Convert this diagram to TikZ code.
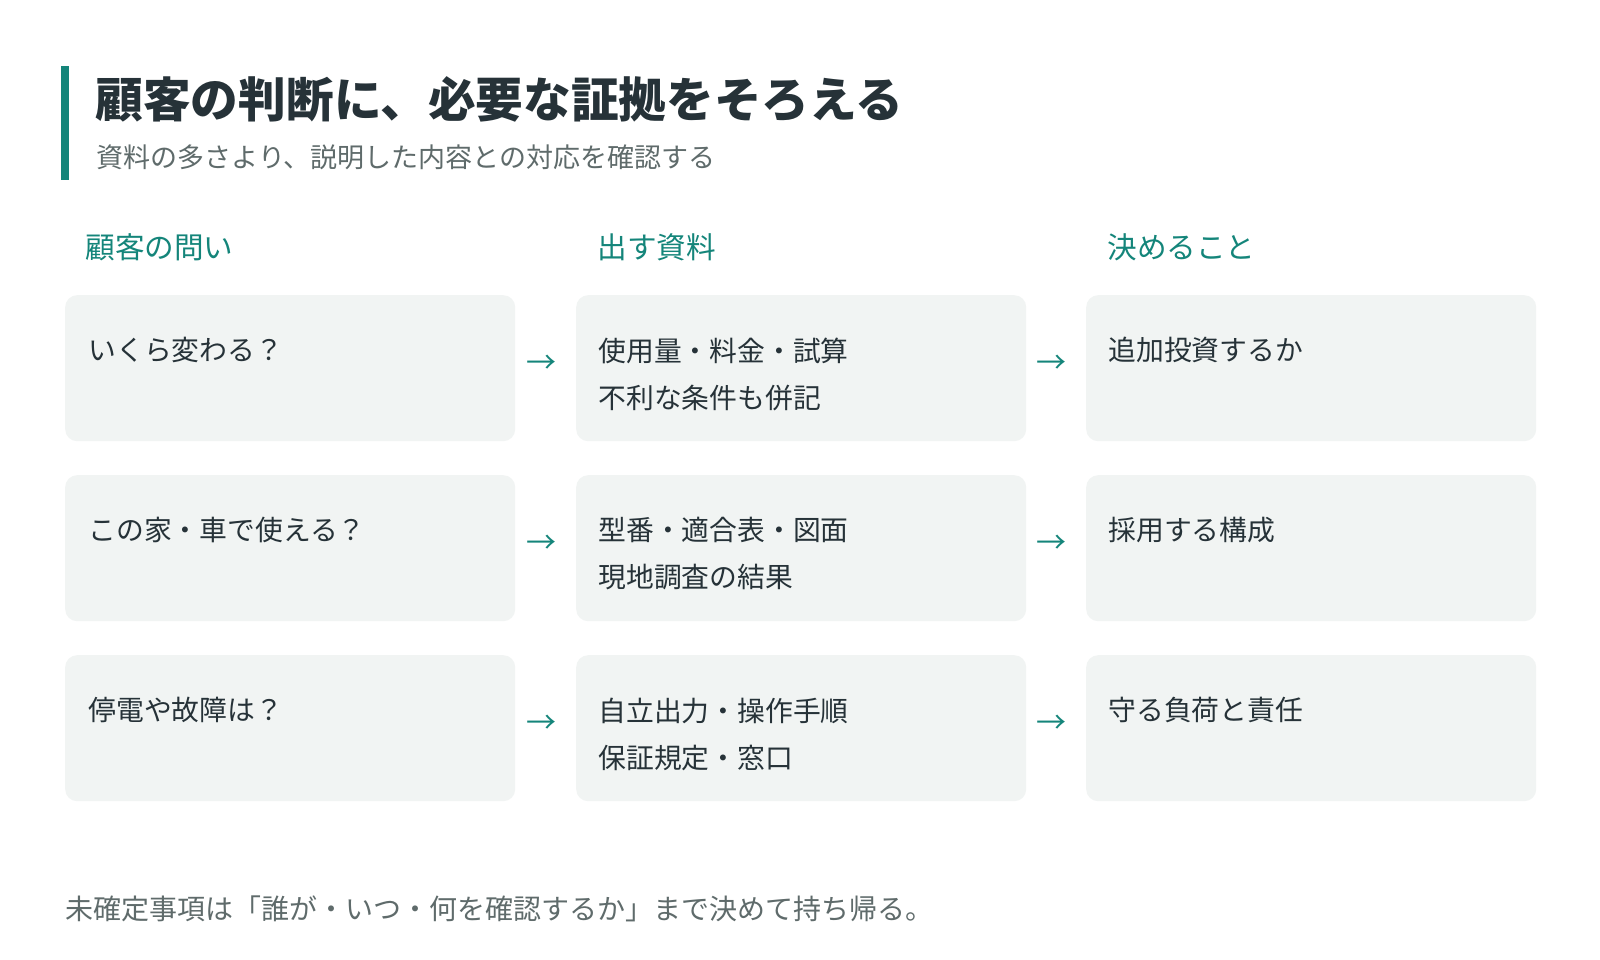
\documentclass[tikz,border=0pt]{standalone}
\usepackage{fontspec}
\setmainfont{Noto Sans CJK JP}
\usetikzlibrary{positioning}
\definecolor{teal1}{HTML}{14857A}
\definecolor{boxbg}{HTML}{F1F4F3}
\definecolor{ink}{HTML}{263238}
\definecolor{subgray}{HTML}{5F6B6B}
\tikzset{
    card/.style={
        fill=boxbg,
        draw=none,
        rounded corners=12pt,
        minimum width=450pt,
        minimum height=146pt,
        anchor=north west,
    },
    cardtext/.style={
        font=\fontsize{27.8}{47}\selectfont,
        text=ink,
        anchor=west,
        align=left,
    },
    head/.style={
        font=\fontsize{29.6}{34}\selectfont,
        text=teal1,
        anchor=west,
    },
    flow/.style={
        font=\fontsize{30}{30}\selectfont,
        text=teal1,
    },
}
\begin{document}
\begin{tikzpicture}[x=1pt,y=-1pt]
    \useasboundingbox[fill=white] (0,0) rectangle (1600,960);

    % title block
    \fill[teal1] (61,66) rectangle (69,180);
    \node[anchor=west, text=ink, font=\fontsize{47.7}{52}\selectfont\bfseries] (title) at (92,99) {顧客の判断に、必要な証拠をそろえる};
    \node[anchor=west, text=subgray, font=\fontsize{27}{30}\selectfont] (subtitle) at (93,157) {資料の多さより、説明した内容との対応を確認する};

    % column heads
    \node[head] (h1) at (82,247) {顧客の問い};
    \node[head] (h2) at (594,247) {出す資料};
    \node[head] (h3) at (1104,247) {決めること};

    % row 1
    \node[card] (q1) at (65,295) {};
    \node[card] (d1) at (576,295) {};
    \node[card] (r1) at (1086,295) {};
    \node[cardtext] at (85,350) {いくら変わる？};
    \node[cardtext] at (595,374) {使用量・料金・試算\\不利な条件も併記};
    \node[cardtext] at (1105,350) {追加投資するか};
    \node[flow] (a1) at (541,364) {→};
    \node[flow] (b1) at (1051,364) {→};

    % row 2
    \node[card] (q2) at (65,475) {};
    \node[card] (d2) at (576,475) {};
    \node[card] (r2) at (1086,475) {};
    \node[cardtext] at (85,530) {この家・車で使える？};
    \node[cardtext] at (595,554) {型番・適合表・図面\\現地調査の結果};
    \node[cardtext] at (1105,530) {採用する構成};
    \node[flow] (a2) at (541,544) {→};
    \node[flow] (b2) at (1051,544) {→};

    % row 3
    \node[card] (q3) at (65,655) {};
    \node[card] (d3) at (576,655) {};
    \node[card] (r3) at (1086,655) {};
    \node[cardtext] at (85,710) {停電や故障は？};
    \node[cardtext] at (595,734) {自立出力・操作手順\\保証規定・窓口};
    \node[cardtext] at (1105,710) {守る負荷と責任};
    \node[flow] (a3) at (541,724) {→};
    \node[flow] (b3) at (1051,724) {→};

    % footer
    \node[anchor=west, text=subgray, font=\fontsize{28}{30}\selectfont] (note) at (62,909) {未確定事項は「誰が・いつ・何を確認するか」まで決めて持ち帰る。};
\end{tikzpicture}
\end{document}
